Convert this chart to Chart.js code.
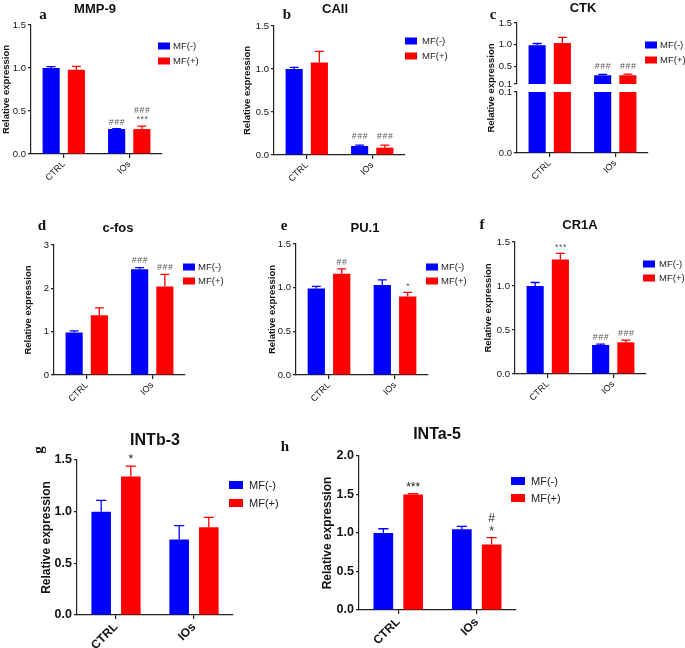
<!DOCTYPE html>
<html>
<head>
<meta charset="utf-8">
<script src="https://cdn.jsdelivr.net/npm/chart.js@4.4.0/dist/chart.umd.min.js"></script>
<style>
  html, body { margin: 0; padding: 0; background: #fff; }
  body { width: 685px; height: 648px; position: relative; overflow: hidden; }
  canvas { position: absolute; }
</style>
</head>
<body>
<script>
// ---------- DATA ----------
const categories = ['CTRL', 'IOs'];
const seriesLabels = ['MF(-)', 'MF(+)'];
const yAxisLabel = 'Relative expression';

// a  MMP-9
const mmp9Neg = [1.00, 0.29];
const mmp9NegErr = [0.015, 0.005];
const mmp9Pos = [0.98, 0.29];
const mmp9PosErr = [0.04, 0.035];
const mmp9NegSig = ['', '###'];
const mmp9PosSig = ['', '###|***'];
const mmp9Ticks = [0, 0.5, 1.0, 1.5];

// b  CAII
const caiiNeg = [1.00, 0.105];
const caiiNegErr = [0.02, 0.01];
const caiiPos = [1.075, 0.085];
const caiiPosErr = [0.13, 0.03];
const caiiNegSig = ['', '###'];
const caiiPosSig = ['', '###'];
const caiiTicks = [0, 0.5, 1.0, 1.5];

// c  CTK (broken axis)
const ctkNeg = [0.99, 0.30];
const ctkNegErr = [0.04, 0.02];
const ctkPos = [1.04, 0.30];
const ctkPosErr = [0.13, 0.025];
const ctkNegSig = ['', '###'];
const ctkPosSig = ['', '###'];
const ctkTicksTop = [0.1, 0.5, 1.0, 1.5];
const ctkTicksBottom = [0, 0.1];
const ctkBreak = 0.1;

// d  c-fos
const cfosNeg = [0.98, 2.44];
const cfosNegErr = [0.04, 0.04];
const cfosPos = [1.38, 2.04];
const cfosPosErr = [0.17, 0.28];
const cfosNegSig = ['', '###'];
const cfosPosSig = ['', '###'];
const cfosTicks = [0, 1, 2, 3];

// e  PU.1
const pu1Neg = [0.99, 1.03];
const pu1NegErr = [0.025, 0.06];
const pu1Pos = [1.16, 0.90];
const pu1PosErr = [0.055, 0.045];
const pu1NegSig = ['', ''];
const pu1PosSig = ['##', '*'];
const pu1Ticks = [0, 0.5, 1.0, 1.5];

// f  CR1A
const cr1aNeg = [1.00, 0.33];
const cr1aNegErr = [0.04, 0.01];
const cr1aPos = [1.30, 0.36];
const cr1aPosErr = [0.07, 0.025];
const cr1aNegSig = ['', '###'];
const cr1aPosSig = ['***', '###'];
const cr1aTicks = [0, 0.5, 1.0, 1.5];

// g  INTb-3
const intb3Neg = [1.00, 0.73];
const intb3NegErr = [0.11, 0.135];
const intb3Pos = [1.34, 0.85];
const intb3PosErr = [0.10, 0.095];
const intb3NegSig = ['', ''];
const intb3PosSig = ['*', ''];
const intb3Ticks = [0, 0.5, 1.0, 1.5];

// h  INTa-5
const inta5Neg = [1.00, 1.05];
const inta5NegErr = [0.055, 0.035];
const inta5Pos = [1.50, 0.85];
const inta5PosErr = [0.01, 0.09];
const inta5NegSig = ['', ''];
const inta5PosSig = ['***', '#|*'];
const inta5Ticks = [0, 0.5, 1.0, 1.5, 2.0];

// ---------- STYLE / LAYOUT ----------
const FONT = '"Liberation Sans", Arial, sans-serif';
const BLUE = '#0000ff';
const RED = '#ff0000';
const AXIS = '#222';

const STYLE = {
  s: { tick: 9.5, tickW: 'normal', xl: 9, xlW: 'normal', yt: 9.5, title: 13, leg: 9.5,
       boxW: 12, boxH: 7, sig: 8.5, sigColor: '#555', sigSpacing: '1.5px', letter: 15,
       cat: 0.77, bar: 0.68 },
  l: { tick: 12.5, tickW: 'bold', xl: 12, xlW: 'bold', yt: 12, title: 16, leg: 11,
       boxW: 14, boxH: 8, sig: 12, sigColor: '#222', sigSpacing: '0px', letter: 15,
       cat: 0.76, bar: 0.66 }
};

const panels = [
  { title: 'MMP-9', letter: 'a', size: 's', dec: 1,
    neg: mmp9Neg, negErr: mmp9NegErr, pos: mmp9Pos, posErr: mmp9PosErr,
    negSig: mmp9NegSig, posSig: mmp9PosSig, ticks: mmp9Ticks,
    box: { L: 0, T: 0, W: 228, H: 190, x0: 31, x1: 162, yTop: 25, yBot: 154, yLabelX: 6,
           titleX: 95, titleY: 9, letterX: 43, letterY: 15,
           legX: 158, legY1: 46, legY2: 61, legTX: 173, sigGap: 6, sigLine: 9 } },
  { title: 'CAII', letter: 'b', size: 's', dec: 1,
    neg: caiiNeg, negErr: caiiNegErr, pos: caiiPos, posErr: caiiPosErr,
    negSig: caiiNegSig, posSig: caiiPosSig, ticks: caiiTicks,
    box: { L: 230, T: 0, W: 225, H: 190, x0: 274, x1: 405, yTop: 26, yBot: 155, yLabelX: 247,
           titleX: 335, titleY: 9, letterX: 287, letterY: 15,
           legX: 405, legY1: 41, legY2: 56, legTX: 422, sigGap: 8, sigLine: 9 } },
  { title: 'CTK', letter: 'c', size: 's', dec: 1, broken: true,
    neg: ctkNeg, negErr: ctkNegErr, pos: ctkPos, posErr: ctkPosErr,
    negSig: ctkNegSig, posSig: ctkPosSig, ticksTop: ctkTicksTop, ticksBottom: ctkTicksBottom, breakAt: ctkBreak,
    box: { L: 455, T: 0, W: 230, H: 190, x0: 517, x1: 648, yTop: 23, brkTop: 84, brkBot: 92, yBot: 153, yLabelX: 491,
           titleX: 583, titleY: 8, letterX: 493, letterY: 15,
           legX: 645, legY1: 45, legY2: 60, legTX: 660, sigGap: 8, sigLine: 9 } },
  { title: 'c-fos', letter: 'd', size: 's', dec: 0,
    neg: cfosNeg, negErr: cfosNegErr, pos: cfosPos, posErr: cfosPosErr,
    negSig: cfosNegSig, posSig: cfosPosSig, ticks: cfosTicks,
    box: { L: 0, T: 190, W: 228, H: 212, x0: 54, x1: 185, yTop: 245, yBot: 375, yLabelX: 28,
           titleX: 118, titleY: 228, letterX: 42, letterY: 226,
           legX: 183, legY1: 267, legY2: 281, legTX: 198, sigGap: 7, sigLine: 9 } },
  { title: 'PU.1', letter: 'e', size: 's', dec: 1,
    neg: pu1Neg, negErr: pu1NegErr, pos: pu1Pos, posErr: pu1PosErr,
    negSig: pu1NegSig, posSig: pu1PosSig, ticks: pu1Ticks,
    box: { L: 230, T: 190, W: 250, H: 212, x0: 296, x1: 428, yTop: 244, yBot: 375, yLabelX: 272,
           titleX: 365, titleY: 228, letterX: 284, letterY: 226,
           legX: 426, legY1: 267, legY2: 281, legTX: 441, sigGap: 6, sigLine: 9 } },
  { title: 'CR1A', letter: 'f', size: 's', dec: 1,
    neg: cr1aNeg, negErr: cr1aNegErr, pos: cr1aPos, posErr: cr1aPosErr,
    negSig: cr1aNegSig, posSig: cr1aPosSig, ticks: cr1aTicks,
    box: { L: 475, T: 190, W: 210, H: 212, x0: 515, x1: 646, yTop: 242, yBot: 374, yLabelX: 488,
           titleX: 580, titleY: 225, letterX: 482, letterY: 225,
           legX: 643, legY1: 264, legY2: 278, legTX: 659, sigGap: 6, sigLine: 9 } },
  { title: 'INTb-3', letter: 'g', letterRot: true, size: 'l', dec: 1,
    neg: intb3Neg, negErr: intb3NegErr, pos: intb3Pos, posErr: intb3PosErr,
    negSig: intb3NegSig, posSig: intb3PosSig, ticks: intb3Ticks,
    box: { L: 0, T: 405, W: 300, H: 243, x0: 77, x1: 233, yTop: 460, yBot: 615, yLabelX: 47,
           titleX: 155, titleY: 441, letterX: 39, letterY: 450,
           legX: 229, legY1: 485, legY2: 503, legTX: 249, sigGap: 7, sigLine: 13 } },
  { title: 'INTa-5', letter: 'h', size: 'l', dec: 1,
    neg: inta5Neg, negErr: inta5NegErr, pos: inta5Pos, posErr: inta5PosErr,
    negSig: inta5NegSig, posSig: inta5PosSig, ticks: inta5Ticks,
    box: { L: 270, T: 405, W: 415, H: 243, x0: 359, x1: 516, yTop: 456, yBot: 610, yLabelX: 328,
           titleX: 437, titleY: 435, letterX: 285, letterY: 447,
           legX: 511, legY1: 481, legY2: 498, legTX: 531, sigGap: 6, sigLine: 13 } }
];

// ---------- RENDER ----------
function makeDeco(p, st, errInfo) {
  const b = p.box;
  return {
    id: 'deco',
    afterDatasetsDraw(chart) {
      const ctx = chart.ctx;
      errInfo.forEach((info, di) => {
        if (!info) return;
        const meta = chart.getDatasetMeta(di);
        const ys = chart.scales[meta.yAxisID];
        meta.data.forEach((el, i) => {
          const valPx = ys.getPixelForValue(info.vals[i]);
          const topPx = ys.getPixelForValue(info.vals[i] + info.errs[i]);
          const hw = el.width * 0.26;
          ctx.save();
          ctx.strokeStyle = info.color;
          ctx.lineWidth = 1.3;
          ctx.beginPath();
          ctx.moveTo(el.x, valPx); ctx.lineTo(el.x, topPx);
          ctx.moveTo(el.x - hw, topPx); ctx.lineTo(el.x + hw, topPx);
          ctx.stroke();
          const s = info.sig[i];
          if (s) {
            const lines = s.split('|');
            ctx.font = (st === STYLE.s ? 'italic ' : '') + st.sig + 'px ' + FONT;
            ctx.fillStyle = st.sigColor;
            ctx.textAlign = 'center';
            ctx.textBaseline = 'middle';
            lines.forEach((t, k) => {
              const y = topPx - b.sigGap - (lines.length - 1 - k) * b.sigLine;
              const txt = st === STYLE.s ? t.split('').join('\u200A') : t;
              ctx.fillText(txt, el.x, y);
            });
          }
          ctx.restore();
        });
      });
    },
    afterDraw(chart) {
      const ctx = chart.ctx;
      const ox = b.L, oy = b.T;
      ctx.save();
      ctx.fillStyle = '#111';
      ctx.textAlign = 'center';
      ctx.textBaseline = 'middle';
      ctx.font = 'bold ' + st.title + 'px ' + FONT;
      ctx.fillText(p.title, b.titleX - ox, b.titleY - oy);
      ctx.font = 'bold ' + st.letter + 'px "Liberation Serif", serif';
      if (p.letterRot) {
        ctx.save();
        ctx.translate(b.letterX - ox, b.letterY - oy);
        ctx.rotate(-Math.PI / 2);
        ctx.fillText(p.letter, 0, 0);
        ctx.restore();
      } else {
        ctx.fillText(p.letter, b.letterX - ox, b.letterY - oy);
      }
      if (p.broken) {
        ctx.save();
        ctx.font = 'bold ' + st.yt + 'px ' + FONT;
        ctx.translate(b.yLabelX - ox, (b.yTop + b.yBot) / 2 - oy);
        ctx.rotate(-Math.PI / 2);
        ctx.fillText(yAxisLabel, 0, 0);
        ctx.restore();
      }
      [BLUE, RED].forEach((c, k) => {
        const y = (k ? b.legY2 : b.legY1) - oy;
        ctx.fillStyle = c;
        ctx.fillRect(b.legX - ox, y - st.boxH / 2, st.boxW, st.boxH);
        ctx.fillStyle = '#222';
        ctx.textAlign = 'left';
        ctx.font = st.leg + 'px ' + FONT;
        ctx.fillText(seriesLabels[k], b.legTX - ox, y + 0.5);
      });
      ctx.restore();
    }
  };
}

function makePanel(p) {
  const b = p.box, st = STYLE[p.size];
  const cv = document.createElement('canvas');
  cv.width = b.W; cv.height = b.H;
  cv.style.left = b.L + 'px'; cv.style.top = b.T + 'px';
  cv.style.width = b.W + 'px'; cv.style.height = b.H + 'px';
  document.body.appendChild(cv);

  const lh = st.yt * 1.2;
  const padLeft = Math.max(0, b.yLabelX - b.L - lh / 2);
  const yW = b.x0 - b.L - padLeft;
  const padTop = b.yTop - b.T;
  const padRight = b.L + b.W - b.x1;
  const xH = b.T + b.H - b.yBot;

  const tickFont = { family: FONT, size: st.tick, weight: st.tickW };
  const yTitle = { display: true, text: yAxisLabel, color: '#111', padding: 0,
                   font: { family: FONT, size: st.yt, weight: 'bold' } };
  const yBase = (extra) => Object.assign({
    type: 'linear', position: 'left', stacked: false,
    afterFit: s => { s.width = yW; },
    ticks: { font: tickFont, color: '#111', padding: 2, autoSkip: false,
             callback: v => Number(v).toFixed(p.dec) },
    grid: { drawOnChartArea: false, drawTicks: true, tickLength: 3, color: AXIS, lineWidth: 1.2 },
    border: { display: true, color: AXIS, width: 1.2 },
    title: { display: false }
  }, extra);
  const setTicks = arr => (s => { s.ticks = arr.map(v => ({ value: v })); });

  const scales = {
    x: {
      type: 'category',
      afterFit: s => { s.height = xH; },
      ticks: { font: { family: FONT, size: st.xl, weight: st.xlW }, color: '#111',
               minRotation: 45, maxRotation: 45, autoSkip: false, padding: 1 },
      grid: { offset: false, drawOnChartArea: false, drawTicks: true, tickLength: 4, color: AXIS, lineWidth: 1.2 },
      border: { display: true, color: AXIS, width: 1.2 }
    }
  };
  let datasets, errInfo;
  const barOpts = { categoryPercentage: st.cat, barPercentage: st.bar, borderWidth: 0 };
  if (p.broken) {
    const tTop = p.ticksTop, tBot = p.ticksBottom;
    scales.yTop = yBase({ stack: 'brk', stackWeight: b.brkTop - b.yTop, weight: 3,
      min: tTop[0], max: tTop[tTop.length - 1], afterBuildTicks: setTicks(tTop) });
    scales.yGap = { type: 'linear', position: 'left', stack: 'brk', stackWeight: b.brkBot - b.brkTop, weight: 2,
      min: 0, max: 1, afterFit: s => { s.width = yW; },
      ticks: { display: false }, grid: { display: false }, border: { display: false }, title: { display: false } };
    scales.yBot = yBase({ stack: 'brk', stackWeight: b.yBot - b.brkBot, weight: 1,
      min: tBot[0], max: tBot[tBot.length - 1], afterBuildTicks: setTicks(tBot) });
    datasets = [
      Object.assign({ label: seriesLabels[0], data: p.neg.map(v => [p.breakAt, v]), yAxisID: 'yTop', stack: 'neg', backgroundColor: BLUE }, barOpts),
      Object.assign({ label: seriesLabels[1], data: p.pos.map(v => [p.breakAt, v]), yAxisID: 'yTop', stack: 'pos', backgroundColor: RED }, barOpts),
      Object.assign({ label: seriesLabels[0], data: p.neg.map(v => [0, Math.min(v, p.breakAt)]), yAxisID: 'yBot', stack: 'neg', backgroundColor: BLUE }, barOpts),
      Object.assign({ label: seriesLabels[1], data: p.pos.map(v => [0, Math.min(v, p.breakAt)]), yAxisID: 'yBot', stack: 'pos', backgroundColor: RED }, barOpts)
    ];
    errInfo = [
      { vals: p.neg, errs: p.negErr, sig: p.negSig, color: BLUE },
      { vals: p.pos, errs: p.posErr, sig: p.posSig, color: RED },
      null, null
    ];
  } else {
    scales.y = yBase({ min: p.ticks[0], max: p.ticks[p.ticks.length - 1],
      afterBuildTicks: setTicks(p.ticks), title: yTitle });
    datasets = [
      Object.assign({ label: seriesLabels[0], data: p.neg, backgroundColor: BLUE }, barOpts),
      Object.assign({ label: seriesLabels[1], data: p.pos, backgroundColor: RED }, barOpts)
    ];
    errInfo = [
      { vals: p.neg, errs: p.negErr, sig: p.negSig, color: BLUE },
      { vals: p.pos, errs: p.posErr, sig: p.posSig, color: RED }
    ];
  }

  new Chart(cv, {
    type: 'bar',
    data: { labels: categories, datasets },
    options: {
      responsive: false, animation: false, devicePixelRatio: 1, events: [],
      layout: { padding: { left: padLeft, top: padTop, right: padRight, bottom: 0 } },
      plugins: { legend: { display: false }, tooltip: { enabled: false }, title: { display: false } },
      scales
    },
    plugins: [makeDeco(p, st, errInfo)]
  });
}

panels.forEach(makePanel);
</script>
</body>
</html>
